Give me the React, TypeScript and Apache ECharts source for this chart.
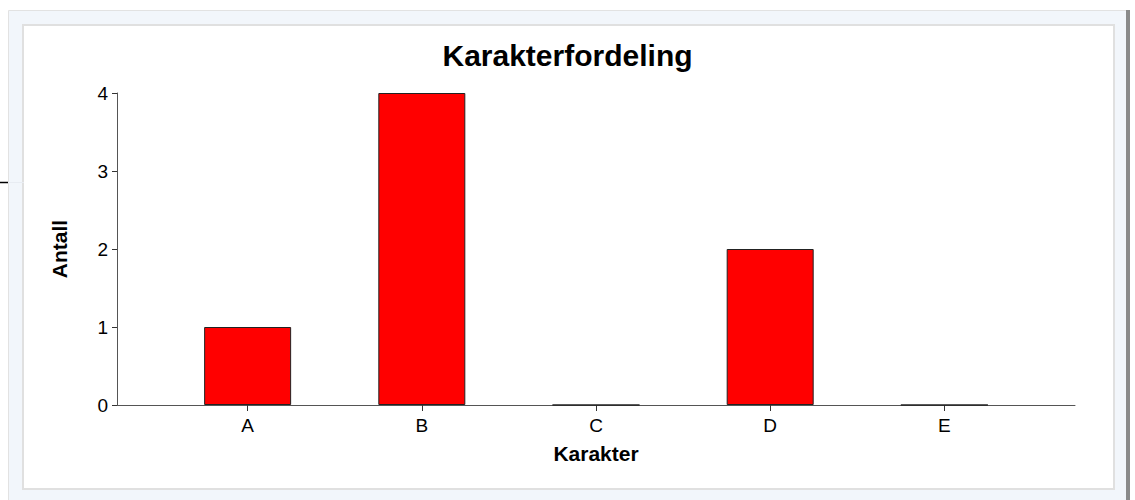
import React, { useEffect, useRef } from "react";
import * as echarts from "echarts";

const categories = ["A", "B", "C", "D", "E"];
const counts = [1, 4, 0, 2, 0];
const yTicks = [0, 1, 2, 3, 4];
const titleText = "Karakterfordeling";
const xName = "Karakter";
const yName = "Antall";

export default function App() {
  const ref = useRef<HTMLDivElement>(null);
  useEffect(() => {
    document.body.style.margin = "0";
    const chart = echarts.init(ref.current!, null, { renderer: "svg" });
    const font = "Liberation Sans, Arial, Helvetica, sans-serif";
    chart.setOption({
      animation: false,
      textStyle: { fontFamily: font },
      graphic: [
        { type: "rect", z: -10, shape: { x: 8.5, y: 10.5, width: 1119, height: 500 }, style: { fill: "#f2f6fb", stroke: "#e2e2e2", lineWidth: 1 } },
        { type: "rect", z: -10, shape: { x: 1126, y: 10, width: 4, height: 500 }, style: { fill: "#8a8a8a" } },
        { type: "rect", z: -9, shape: { x: 23, y: 25, width: 1091, height: 464 }, style: { fill: "#ffffff", stroke: "#e0e0e0", lineWidth: 2 } },
        { type: "line", z: -8, shape: { x1: 0, y1: 182.5, x2: 8, y2: 182.5 }, style: { stroke: "#000", lineWidth: 1.5 } },
        { type: "line", z: -8, shape: { x1: 8, y1: 182.5, x2: 24, y2: 182.5 }, style: { stroke: "#e8ecf2", lineWidth: 1 } },
      ],
      title: {
        text: titleText,
        left: "center",
        top: 35,
        textStyle: { fontFamily: font, fontSize: 30, fontWeight: "bold", color: "#000" },
      },
      grid: { left: 117, right: 60, top: 93, bottom: 95, containLabel: false },
      xAxis: {
        type: "value",
        min: -0.75,
        max: 4.75,
        name: xName,
        nameLocation: "middle",
        nameGap: 38,
        nameTextStyle: { fontFamily: font, fontSize: 21, fontWeight: "bold", color: "#000" },
        splitLine: { show: false },
        axisLine: { show: true, onZero: false, lineStyle: { color: "#555", width: 1 } },
        axisTick: { show: true, length: 6, customValues: [0, 1, 2, 3, 4], lineStyle: { color: "#333" } },
        axisLabel: {
          customValues: [0, 1, 2, 3, 4],
          formatter: (v: number) => categories[Math.round(v)] ?? "",
          fontFamily: font,
          fontSize: 19,
          color: "#000",
          margin: 11,
        },
      },
      yAxis: {
        type: "value",
        min: 0,
        max: 4,
        interval: 1,
        name: yName,
        nameLocation: "middle",
        nameGap: 47,
        nameTextStyle: { fontFamily: font, fontSize: 21, fontWeight: "bold", color: "#000" },
        splitLine: { show: false },
        axisLine: { show: true, onZero: false, lineStyle: { color: "#555", width: 1 } },
        axisTick: { show: true, length: 5, lineStyle: { color: "#333" } },
        axisLabel: {
          formatter: (v: number) => (yTicks.includes(v) ? String(v) : ""),
          fontFamily: font,
          fontSize: 19,
          color: "#000",
          margin: 9,
        },
      },
      series: [
        {
          type: "bar",
          barWidth: 87,
          data: counts.map((c, i) => [i, c]),
          itemStyle: { color: "#ff0000", borderColor: "#222", borderWidth: 1 },
        },
      ],
    });
    return () => chart.dispose();
  }, []);
  return <div ref={ref} style={{ width: 1135, height: 500 }} />;
}
